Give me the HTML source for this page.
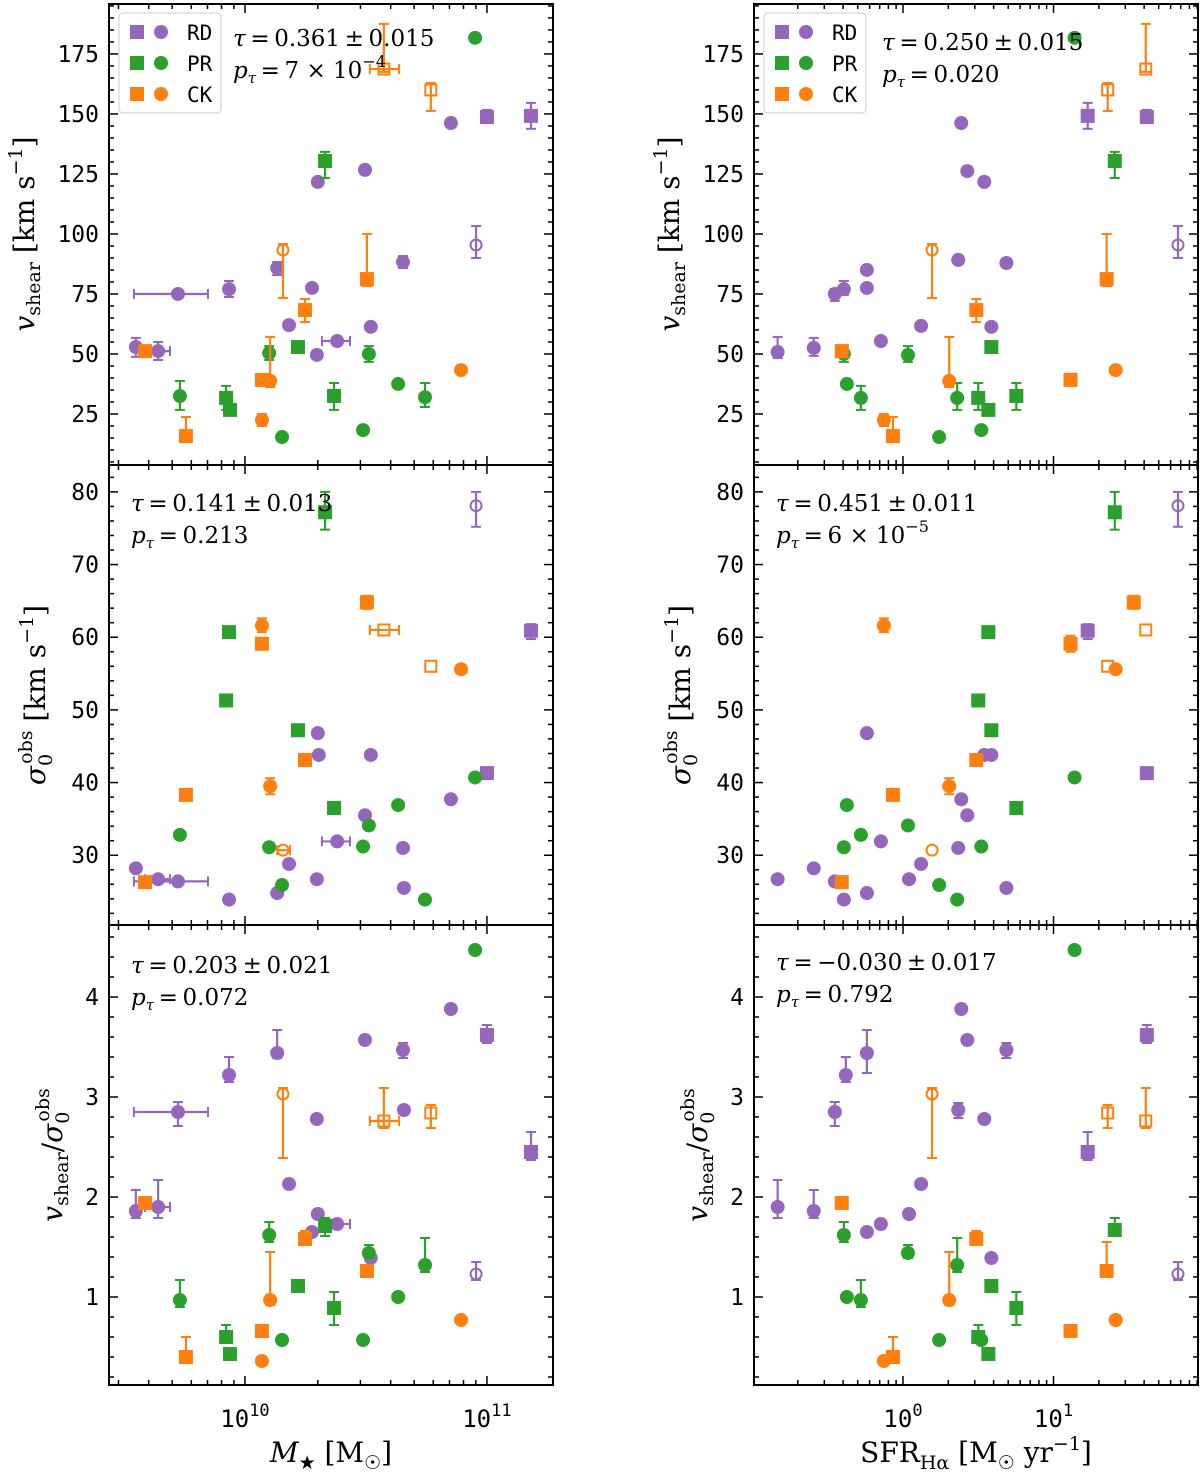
<!DOCTYPE html>
<html><head><meta charset="utf-8"><style>
body{margin:0;background:#fff}
.mono{font-family:"DejaVu Sans Mono","Liberation Mono",monospace}
.ser{font-family:"DejaVu Serif","Liberation Serif",serif}
</style></head><body>
<svg id="c" width="1200" height="1475" xmlns="http://www.w3.org/2000/svg"></svg>
<script>
// code: color(P/G/O) + shape(c/s) + optional 'o' (open); errors in data units
const tlPts=[[9.549,52.9,'Pc',48.8,56.7],[9.641,51.2,'Pc',47.5,55,9.587,9.69],[9.723,75,'Pc',0,0,9.541,9.847],[9.934,77,'Pc',73.75,80.4],[10.133,85.8,'Pc',82.9,88.3],[10.182,62,'Pc'],[10.277,77.5,'Pc'],[10.301,121.7,'Pc'],[10.297,49.6,'Pc'],[10.381,55.4,'Pc',0,0,10.318,10.434],[10.496,126.7,'Pc'],[10.52,61.3,'Pc'],[10.653,88.3,'Pc',85.8,90.8],[10.851,146.2,'Pc'],[10.955,95.4,'Pco',90,103.3],[11.0,148.7,'Ps',146.25,151.7],[11.182,149.2,'Ps',143.8,154.6],
[9.731,32.5,'Gc',26.7,38.75],[10.1,50.4,'Gc',47.5,53.3],[10.153,15.4,'Gc'],[10.488,18.3,'Gc'],[10.512,50,'Gc',46.7,53.3],[10.633,37.5,'Gc'],[10.744,32,'Gc',27.9,37.9],[10.951,181.7,'Gc'],[9.922,31.7,'Gs',26.7,36.7],[9.938,26.7,'Gs'],[10.219,52.9,'Gs'],[10.331,130.4,'Gs',123.3,134.2],[10.368,32.5,'Gs',26.7,37.9],
[9.587,51.2,'Os'],[9.756,15.8,'Os',13.75,23.75],[10.07,22.5,'Oc',20,25],[10.07,39.2,'Os'],[10.104,38.8,'Oc',36.25,57.1],[10.157,93.3,'Oco',73.3,95.8],[10.248,68.3,'Os',63.3,72.9],[10.504,81.2,'Os',78.3,100],[10.574,168.7,'Oso',167.5,187.5,10.516,10.637],[10.768,160,'Oso',151.25,162.9],[10.893,43.3,'Oc']];
const mlPts=[[9.549,28.2,'Pc'],[9.641,26.7,'Pc',0,0,9.587,9.69],[9.723,26.4,'Pc',0,0,9.541,9.847],[9.934,23.9,'Pc'],[10.133,24.8,'Pc'],[10.182,28.8,'Pc'],[10.301,46.8,'Pc'],[10.305,43.8,'Pc'],[10.297,26.7,'Pc'],[10.381,31.9,'Pc',0,0,10.318,10.434],[10.496,35.5,'Pc'],[10.52,43.8,'Pc'],[10.653,31,'Pc'],[10.657,25.5,'Pc'],[10.851,37.7,'Pc'],[10.955,78.1,'Pco',75.2,80],[11.0,41.3,'Ps'],[11.182,60.9,'Ps',59.75,61.8],
[9.731,32.8,'Gc'],[10.1,31.1,'Gc'],[10.153,25.9,'Gc'],[10.488,31.2,'Gc'],[10.512,34.1,'Gc'],[10.633,36.9,'Gc'],[10.744,23.9,'Gc'],[10.951,40.7,'Gc'],[9.934,60.7,'Gs'],[9.922,51.3,'Gs'],[10.219,47.2,'Gs'],[10.331,77.2,'Gs',74.8,80],[10.368,36.5,'Gs'],
[9.587,26.3,'Os'],[9.756,38.3,'Os'],[10.07,61.6,'Oc',60.7,62.6],[10.07,59.1,'Os',58.5,59.6],[10.104,39.5,'Oc',38.4,40.6],[10.157,30.7,'Oco',0,0,10.133,10.186],[10.248,43.1,'Os'],[10.504,64.8,'Os',63.9,65.7],[10.574,61,'Oso',0,0,10.516,10.637],[10.768,56,'Oso'],[10.893,55.6,'Oc']];
const blPts=[[9.549,1.86,'Pc',1.79,2.07],[9.641,1.9,'Pc',1.79,2.17,9.587,9.69],[9.723,2.85,'Pc',2.71,2.95,9.541,9.847],[9.934,3.22,'Pc',3.15,3.4],[10.133,3.44,'Pc',3.39,3.67],[10.182,2.13,'Pc'],[10.277,1.65,'Pc'],[10.301,1.83,'Pc'],[10.297,2.78,'Pc'],[10.381,1.73,'Pc',0,0,10.318,10.434],[10.496,3.57,'Pc'],[10.52,1.39,'Pc'],[10.653,3.47,'Pc',3.39,3.54],[10.657,2.87,'Pc'],[10.851,3.88,'Pc'],[10.955,1.23,'Pco',1.17,1.35],[11.0,3.62,'Ps',3.54,3.72],[11.182,2.45,'Ps',2.37,2.65],
[9.731,0.97,'Gc',0.9,1.17],[10.1,1.62,'Gc',1.55,1.75],[10.153,0.57,'Gc'],[10.488,0.57,'Gc'],[10.512,1.44,'Gc',1.39,1.52],[10.633,1.0,'Gc'],[10.744,1.32,'Gc',1.25,1.59],[10.951,4.47,'Gc'],[9.922,0.6,'Gs',0.55,0.72],[9.938,0.43,'Gs'],[10.219,1.11,'Gs'],[10.331,1.71,'Gs',1.61,1.79],[10.368,0.89,'Gs',0.72,1.05],
[9.587,1.94,'Os'],[9.756,0.4,'Os',0.35,0.6],[10.07,0.36,'Oc'],[10.07,0.66,'Os'],[10.104,0.97,'Oc',0.92,1.45],[10.157,3.03,'Oco',2.39,3.09],[10.248,1.58,'Os',1.52,1.66],[10.504,1.26,'Os',1.21,1.32],[10.574,2.76,'Oso',2.69,3.09,10.516,10.637],[10.768,2.84,'Oso',2.69,2.92],[10.893,0.77,'Oc']];
const trPts=[[-0.833,50.8,'Pc',48.3,57.1],[-0.593,52.5,'Pc',49.2,56.7],[-0.453,75,'Pc',72.1,77.1],[-0.393,77,'Pc',74.6,80.4],[-0.24,85,'Pc'],[-0.24,77.5,'Pc'],[-0.147,55.4,'Pc'],[0.12,61.7,'Pc'],[0.367,89.2,'Pc'],[0.387,146.2,'Pc'],[0.427,126.2,'Pc'],[0.54,121.7,'Pc'],[0.587,61.3,'Pc'],[0.687,87.9,'Pc'],[1.827,95.4,'Pco',90,103.3],[1.227,149.2,'Ps',143.8,154.6],[1.62,148.7,'Ps',146.25,151.7],
[-0.393,50,'Gc',46.7,53.3],[-0.373,37.5,'Gc'],[-0.28,31.7,'Gc',26.7,36.7],[0.033,49.6,'Gc',46.7,53.3],[0.24,15.4,'Gc'],[0.36,31.7,'Gc',26.7,37.9],[0.52,18.3,'Gc'],[1.14,181.7,'Gc'],[0.5,31.7,'Gs',26.7,37.9],[0.567,26.7,'Gs'],[0.587,52.9,'Gs'],[0.753,32.5,'Gs',26.7,37.9],[1.407,130.4,'Gs',123.3,134.2],
[-0.407,51.2,'Os'],[0.193,93.3,'Oco',73.3,95.8],[-0.127,22.5,'Oc',20,25],[-0.067,15.8,'Os',13.75,23.75],[0.307,38.8,'Oc',36.25,57.1],[0.487,68.3,'Os',63.3,72.9],[1.113,39.2,'Os'],[1.36,160,'Oso',151.25,162.9],[1.413,43.3,'Oc'],[1.353,81.2,'Os',78.3,100],[1.613,168.7,'Oso',167.5,187.5]];
const mrPts=[[-0.833,26.7,'Pc'],[-0.593,28.2,'Pc'],[-0.453,26.4,'Pc'],[-0.393,23.9,'Pc'],[-0.24,46.8,'Pc'],[-0.24,24.8,'Pc'],[-0.147,31.9,'Pc'],[0.04,26.7,'Pc'],[0.12,28.8,'Pc'],[0.367,31,'Pc'],[0.387,37.7,'Pc'],[0.427,35.5,'Pc'],[0.54,43.8,'Pc'],[0.587,43.8,'Pc'],[0.687,25.5,'Pc'],[1.827,78.1,'Pco',75.2,80],[1.227,60.9,'Ps',59.75,61.8],[1.62,41.3,'Ps'],
[-0.393,31.1,'Gc'],[-0.373,36.9,'Gc'],[-0.28,32.8,'Gc'],[0.033,34.1,'Gc'],[0.24,25.9,'Gc'],[0.36,23.9,'Gc'],[0.52,31.2,'Gc'],[1.14,40.7,'Gc'],[0.5,51.3,'Gs'],[0.567,60.7,'Gs'],[0.587,47.2,'Gs'],[0.753,36.5,'Gs'],[1.407,77.2,'Gs',74.8,80],
[-0.407,26.3,'Os'],[-0.127,61.6,'Oc',60.7,62.6],[0.193,30.7,'Oco'],[-0.067,38.3,'Os'],[0.307,39.5,'Oc',38.4,40.6],[0.487,43.1,'Os'],[1.113,59.1,'Os',58,60.2],[1.36,56,'Oso'],[1.413,55.6,'Oc'],[1.533,64.8,'Os',63.9,65.7],[1.613,61,'Oso']];
const brPts=[[-0.833,1.9,'Pc',1.79,2.17],[-0.593,1.86,'Pc',1.79,2.07],[-0.453,2.85,'Pc',2.71,2.95],[-0.38,3.22,'Pc',3.15,3.4],[-0.24,3.44,'Pc',3.24,3.67],[-0.24,1.65,'Pc'],[-0.147,1.73,'Pc'],[0.04,1.83,'Pc'],[0.12,2.13,'Pc'],[0.367,2.87,'Pc',2.79,2.94],[0.387,3.88,'Pc'],[0.427,3.57,'Pc'],[0.54,2.78,'Pc'],[0.587,1.39,'Pc'],[0.687,3.47,'Pc',3.39,3.54],[1.827,1.23,'Pco',1.17,1.35],[1.227,2.45,'Ps',2.37,2.65],[1.62,3.62,'Ps',3.54,3.72],
[-0.393,1.62,'Gc',1.55,1.75],[-0.373,1.0,'Gc'],[-0.28,0.97,'Gc',0.9,1.17],[0.033,1.44,'Gc',1.39,1.52],[0.24,0.57,'Gc'],[0.36,1.32,'Gc',1.25,1.59],[0.52,0.57,'Gc'],[1.14,4.47,'Gc'],[0.5,0.6,'Gs',0.55,0.72],[0.567,0.43,'Gs'],[0.587,1.11,'Gs'],[0.753,0.89,'Gs',0.72,1.05],[1.407,1.67,'Gs',1.61,1.79],
[-0.407,1.94,'Os'],[-0.127,0.36,'Oc'],[-0.067,0.4,'Os',0.35,0.6],[0.193,3.03,'Oco',2.39,3.09],[0.307,0.97,'Oc',0.92,1.45],[0.487,1.58,'Os',1.52,1.66],[1.113,0.66,'Os'],[1.36,2.84,'Oso',2.69,2.92],[1.413,0.77,'Oc'],[1.353,1.26,'Os',1.21,1.55],[1.613,2.76,'Oso',2.69,3.09]];
const yTicksTop=[25,50,75,100,125,150,175];
const yTicksMid=[30,40,50,60,70,80];
const yTicksBot=[1,2,3,4];
const stats=[["0.361","0.015","7 × 10","−4"],["0.250","0.015","0.020",""],["0.141","0.013","0.213",""],["0.451","0.011","6 × 10","−5"],["0.203","0.021","0.072",""],["−0.030","0.017","0.792",""]];

const NS="http://www.w3.org/2000/svg",svg=document.getElementById('c');
const COL={P:'#9467bd',G:'#2ca02c',O:'#ff7f0e'};
const MONO='font-family:"DejaVu Sans Mono","Liberation Mono",monospace';
const SER='font-family:"DejaVu Serif","Liberation Serif",serif';
function el(t,a,p){const e=document.createElementNS(NS,t);for(const k in a)e.setAttribute(k,a[k]);(p||svg).appendChild(e);return e;}
const cols=[{L:109,R:553,x0:9.438,x1:11.273},{L:754,R:1198,x0:-0.99,x1:1.96}];
const rows=[{T:4,B:465,y0:3.75,y1:195.8,ticks:yTicksTop,minor:5},{T:465,B:925,y0:20.4,y1:83.7,ticks:yTicksMid,minor:2},{T:925,B:1385,y0:0.12,y1:4.72,ticks:yTicksBot,minor:0.2}];
const panels=[[tlPts,trPts],[mlPts,mrPts],[blPts,brPts]];
const pnames=[['vshear-vs-mass','vshear-vs-sfr'],['sigma-vs-mass','sigma-vs-sfr'],['ratio-vs-mass','ratio-vs-sfr']];
const statPos=[[[233,38],[882,42]],[[131,503],[776,503]],[[131,965],[776,962]]];

rows.forEach((r,ri)=>cols.forEach((c,ci)=>{
  const g=el('g',{});
  
  
  const X=v=>c.L+(v-c.x0)/(c.x1-c.x0)*(c.R-c.L);
  const Y=v=>r.B-(v-r.y0)/(r.y1-r.y0)*(r.B-r.T);
  for(let v=Math.ceil(r.y0/r.minor)*r.minor;v<=r.y1;v+=r.minor){
    const vv=Math.round(v*100)/100, major=r.ticks.some(t=>Math.abs(t-vv)<1e-6), len=major?9:5, y=Y(vv);
    el('line',{x1:c.L,x2:c.L+len,y1:y,y2:y,stroke:'#000','stroke-width':1.5},g);
    el('line',{x1:c.R,x2:c.R-len,y1:y,y2:y,stroke:'#000','stroke-width':1.5},g);
    if(major){const t=el('text',{x:c.L-10,y:y+8,'text-anchor':'end','font-size':23,style:MONO},g);t.textContent=String(vv);
      
      }
  }
  for(let d=Math.floor(c.x0);d<=Math.ceil(c.x1);d++)for(let m=1;m<10;m++){
    const lv=d+Math.log10(m); if(lv<c.x0||lv>c.x1)continue;
    const x=X(lv),len=m==1?9:5;
    el('line',{x1:x,x2:x,y1:r.B,y2:r.B-len,stroke:'#000','stroke-width':1.5},g);
    el('line',{x1:x,x2:x,y1:r.T,y2:r.T+len,stroke:'#000','stroke-width':1.5},g);
    if(ri==2&&m==1){const t=el('text',{x:x,y:r.B+42,'text-anchor':'middle','font-size':24,style:MONO},g);
      t.textContent='10';const s=el('tspan',{dy:-11,'font-size':17},t);s.textContent=String(d);
      
      }
  }
  panels[ri][ci].forEach(p=>{
    const [xv,yv,code,ylo,yhi,xlo,xhi]=p, col=COL[code[0]], open=code[2]=='o';
    const x=X(xv),y=Y(yv);
    if(ylo||yhi){el('line',{x1:x,x2:x,y1:Y(ylo),y2:Y(yhi),stroke:col,'stroke-width':2.2},g);
      [ylo,yhi].forEach(v=>el('line',{x1:x-5,x2:x+5,y1:Y(v),y2:Y(v),stroke:col,'stroke-width':2},g));}
    if(xlo){el('line',{x1:X(xlo),x2:X(xhi),y1:y,y2:y,stroke:col,'stroke-width':2.2},g);
      [xlo,xhi].forEach(v=>el('line',{x1:X(v),x2:X(v),y1:y-5,y2:y+5,stroke:col,'stroke-width':2},g));}
    let m;
    if(code[1]=='c')m=el('circle',{cx:x,cy:y,r:open?5.5:7,fill:open?'none':col,stroke:col,'stroke-width':open?2:0},g);
    else m=el('rect',{x:x-(open?5.5:7),y:y-(open?5.5:7),width:open?11:14,height:open?11:14,fill:open?'none':col,stroke:col,'stroke-width':open?2:0},g);
    
    
  });
  const s=stats[ri*2+ci],[sx,sy]=statPos[ri][ci];
  const t1=el('text',{x:sx,y:sy+8,'font-size':23,style:SER},g);
  t1.innerHTML='<tspan font-style="italic">τ</tspan>\u2009=\u2009'+s[0]+'\u2009±\u2009'+s[1];
  
  
  const t2=el('text',{x:sx,y:sy+40,'font-size':23,style:SER},g);
  t2.innerHTML='<tspan font-style="italic">p</tspan><tspan font-style="italic" font-size="15" dy="5">τ</tspan><tspan dy="-5">\u2009=\u2009'+s[2]+'</tspan>'+(s[3]?'<tspan dy="-11" font-size="16">'+s[3]+'</tspan>':'');
  
  
  el('rect',{x:c.L,y:r.T,width:c.R-c.L,height:r.B-r.T,fill:'none',stroke:'#000','stroke-width':2},g);
}));
</script>
<svg width="1200" height="1475" style="position:absolute;left:0;top:0" xmlns="http://www.w3.org/2000/svg">
<g class="mono">
<rect x="119" y="13" width="102" height="100" rx="4" fill="#fff" fill-opacity="0.8" stroke="#ccc"/>
<rect x="130" y="25" width="14" height="14" fill="#9467bd"/><circle cx="161" cy="32" r="7" fill="#9467bd"/><text x="187" y="40" font-size="21">RD</text>
<rect x="130" y="56" width="14" height="14" fill="#2ca02c"/><circle cx="161" cy="63" r="7" fill="#2ca02c"/><text x="187" y="71" font-size="21">PR</text>
<rect x="130" y="87" width="14" height="14" fill="#ff7f0e"/><circle cx="161" cy="94" r="7" fill="#ff7f0e"/><text x="187" y="102" font-size="21">CK</text>
</g>
<g class="mono">
<rect x="764" y="13" width="102" height="100" rx="4" fill="#fff" fill-opacity="0.8" stroke="#ccc"/>
<rect x="775" y="25" width="14" height="14" fill="#9467bd"/><circle cx="806" cy="32" r="7" fill="#9467bd"/><text x="832" y="40" font-size="21">RD</text>
<rect x="775" y="56" width="14" height="14" fill="#2ca02c"/><circle cx="806" cy="63" r="7" fill="#2ca02c"/><text x="832" y="71" font-size="21">PR</text>
<rect x="775" y="87" width="14" height="14" fill="#ff7f0e"/><circle cx="806" cy="94" r="7" fill="#ff7f0e"/><text x="832" y="102" font-size="21">CK</text>
</g>
<g class="ser" font-size="28">
<text transform="translate(34,234) rotate(-90)" text-anchor="middle"><tspan font-style="italic">v</tspan><tspan font-size="19" dy="6">shear</tspan><tspan dy="-6"> [km s</tspan><tspan dy="-12" font-size="19">−1</tspan><tspan dy="12">]</tspan></text>
<text transform="translate(679,234) rotate(-90)" text-anchor="middle"><tspan font-style="italic">v</tspan><tspan font-size="19" dy="6">shear</tspan><tspan dy="-6"> [km s</tspan><tspan dy="-12" font-size="19">−1</tspan><tspan dy="12">]</tspan></text>
<text transform="translate(45,695) rotate(-90)" text-anchor="middle"><tspan font-style="italic">σ</tspan><tspan font-size="19" dy="7">0</tspan><tspan font-size="19" dy="-20" dx="-10">obs</tspan><tspan dy="13"> [km s</tspan><tspan dy="-12" font-size="19">−1</tspan><tspan dy="12">]</tspan></text>
<text transform="translate(690,695) rotate(-90)" text-anchor="middle"><tspan font-style="italic">σ</tspan><tspan font-size="19" dy="7">0</tspan><tspan font-size="19" dy="-20" dx="-10">obs</tspan><tspan dy="13"> [km s</tspan><tspan dy="-12" font-size="19">−1</tspan><tspan dy="12">]</tspan></text>
<text transform="translate(62,1155) rotate(-90)" text-anchor="middle"><tspan font-style="italic">v</tspan><tspan font-size="19" dy="6">shear</tspan><tspan dy="-6">/</tspan><tspan font-style="italic">σ</tspan><tspan font-size="19" dy="7">0</tspan><tspan font-size="19" dy="-20" dx="-10">obs</tspan></text>
<text transform="translate(707,1155) rotate(-90)" text-anchor="middle"><tspan font-style="italic">v</tspan><tspan font-size="19" dy="6">shear</tspan><tspan dy="-6">/</tspan><tspan font-style="italic">σ</tspan><tspan font-size="19" dy="7">0</tspan><tspan font-size="19" dy="-20" dx="-10">obs</tspan></text>
<text x="331" y="1462" text-anchor="middle"><tspan font-style="italic">M</tspan><tspan font-size="19" dy="7">★</tspan><tspan dy="-7"> [M</tspan><tspan font-size="19" dy="7">☉</tspan><tspan dy="-7">]</tspan></text>
<text x="976" y="1462" text-anchor="middle">SFR<tspan font-size="19" dy="7">Hα</tspan><tspan dy="-7"> [M</tspan><tspan font-size="19" dy="7">☉</tspan><tspan dy="-7"> yr</tspan><tspan font-size="19" dy="-12">−1</tspan><tspan dy="12">]</tspan></text>
</g>
</svg>
</body></html>
